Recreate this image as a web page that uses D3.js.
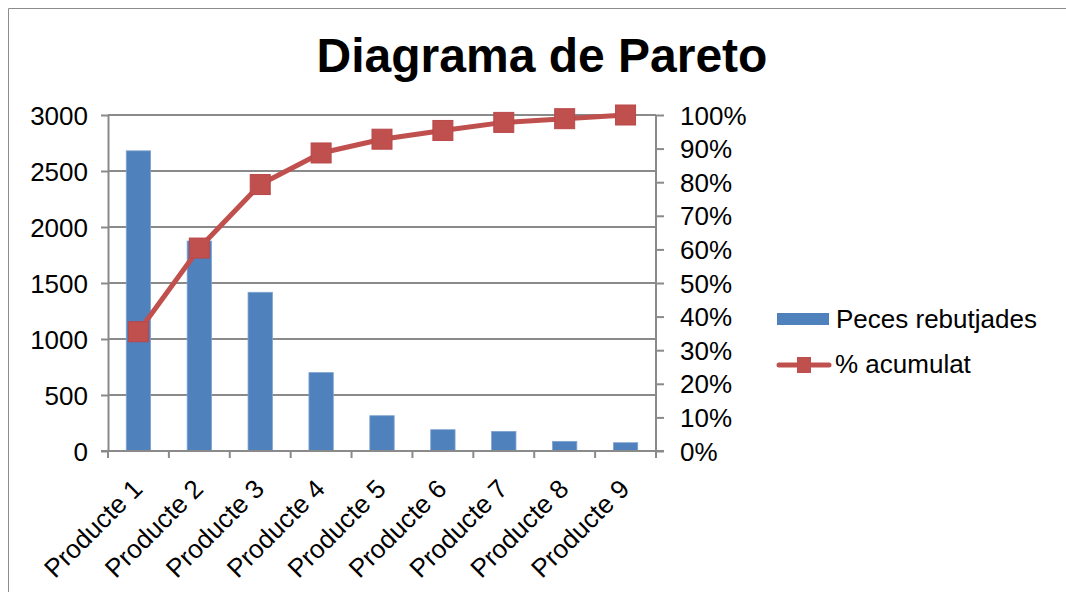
<!DOCTYPE html>
<html><head><meta charset="utf-8">
<script src="https://cdn.jsdelivr.net/npm/d3@7/dist/d3.min.js"></script>
<style>
html,body{margin:0;padding:0;background:#fff;}
text{font-family:"Liberation Sans",Arial,sans-serif;fill:#000;}
</style></head>
<body>
<svg id="c" width="1066" height="592"></svg>
<script>
const categories = ["Producte 1","Producte 2","Producte 3","Producte 4","Producte 5","Producte 6","Producte 7","Producte 8","Producte 9"];
const peces = [2680, 1875, 1417, 700, 315, 190, 175, 86, 74];
const acumulat = [0.355, 0.604, 0.793, 0.887, 0.928, 0.954, 0.978, 0.989, 1.0];
const leftTicks = [0, 500, 1000, 1500, 2000, 2500, 3000];
const rightTicks = [0, 0.1, 0.2, 0.3, 0.4, 0.5, 0.6, 0.7, 0.8, 0.9, 1.0];
const title = "Diagrama de Pareto";
const seriesNames = ["Peces rebutjades", "% acumulat"];

const svg = d3.select("#c");
const L = 108, R = 656, T = 115, B = 451;
const FS = 26;
const blue = "#4F81BD", red = "#C0504D", grid = "#8a8a8a";

// outer border
svg.append("path").attr("d", "M8.5,592 L8.5,8.5 L1066,8.5").attr("fill","none").attr("stroke","#8c8c8c").attr("stroke-width",1);

const xb = d3.scaleBand().domain(categories).range([L, R]).paddingInner(0.6).paddingOuter(0.3);
const xs = d3.scaleBand().domain(categories).range([L, R]).padding(0);
const y = d3.scaleLinear().domain([0, 3000]).range([B, T]);
const y2 = d3.scaleLinear().domain([0, 1]).range([B, T]);

// gridlines + left axis
const gl = svg.append("g").attr("transform", `translate(${L},0)`)
  .call(d3.axisLeft(y).tickValues(leftTicks).tickSize(7).tickFormat(d => d));
gl.select(".domain").attr("stroke", grid).attr("stroke-width", 2).attr("d", `M0.5,${B}V${T}`);
gl.selectAll(".tick line").attr("stroke", grid).attr("stroke-width", 2);
gl.selectAll(".tick text").attr("font-size", FS).attr("x", -20).attr("dy", "0.35em")
  .style("font-family", '"Liberation Sans",Arial,sans-serif').attr("fill", "#000");
svg.append("g").selectAll("line").data(leftTicks.filter(d => d > 0)).join("line")
  .attr("x1", L).attr("x2", R).attr("y1", d => y(d)).attr("y2", d => y(d))
  .attr("stroke", grid).attr("stroke-width", 2);

// right axis
const gr = svg.append("g").attr("transform", `translate(${R},0)`)
  .call(d3.axisRight(y2).tickValues(rightTicks).tickSize(8).tickFormat(d3.format(".0%")));
gr.select(".domain").attr("stroke", grid).attr("stroke-width", 2).attr("d", `M0,${B}V${T}`);
gr.selectAll(".tick line").attr("stroke", grid).attr("stroke-width", 2);
gr.selectAll(".tick text").attr("font-size", FS).attr("x", 24).attr("dy", "0.35em")
  .style("font-family", '"Liberation Sans",Arial,sans-serif').attr("fill", "#000");

// bars
svg.append("g").selectAll("rect").data(peces).join("rect")
  .attr("x", (d, i) => xb(categories[i])).attr("width", xb.bandwidth())
  .attr("y", d => y(d)).attr("height", d => B - y(d))
  .attr("fill", blue).attr("stroke", "#7fa3d0").attr("stroke-width", 0.8);

// bottom axis
const gb = svg.append("g").attr("transform", `translate(0,${B})`);
gb.append("line").attr("x1", L - 7).attr("x2", R + 8).attr("y1", 0).attr("y2", 0).attr("stroke", grid).attr("stroke-width", 2);
const bounds = categories.map(c => xs(c)).concat([R]);
gb.selectAll("line.t").data(bounds).join("line").attr("class","t")
  .attr("x1", d => d).attr("x2", d => d).attr("y1", 0).attr("y2", 7)
  .attr("stroke", grid).attr("stroke-width", 2);
gb.selectAll("text").data(categories).join("text")
  .attr("transform", d => `translate(${xs(d) + xs.bandwidth()/2 - 1},${33}) rotate(-45)`)
  .attr("text-anchor", "end").attr("dy", "0.35em").attr("font-size", FS).text(d => d);

// line
const cx = i => xb(categories[i]) + xb.bandwidth() / 2;
const line = d3.line().x((d, i) => cx(i)).y(d => y2(d));
svg.append("path").datum(acumulat).attr("d", line).attr("fill", "none")
  .attr("stroke", red).attr("stroke-width", 5).attr("stroke-linejoin", "round");
svg.append("g").selectAll("rect").data(acumulat).join("rect")
  .attr("x", (d, i) => cx(i) - 10).attr("y", d => y2(d) - 10)
  .attr("width", 20).attr("height", 20).attr("fill", red).attr("stroke", "#b9474a").attr("stroke-width", 1);

// title
svg.append("text").attr("x", 542).attr("y", 72).attr("text-anchor", "middle")
  .attr("font-size", 48).attr("font-weight", "bold").text(title);

// legend
const lg = svg.append("g");
lg.append("rect").attr("x", 777).attr("y", 313).attr("width", 52).attr("height", 12).attr("fill", blue);
lg.append("text").attr("x", 836).attr("y", 328).attr("font-size", FS).text(seriesNames[0]);
lg.append("line").attr("x1", 779).attr("x2", 829).attr("y1", 365).attr("y2", 365)
  .attr("stroke", red).attr("stroke-width", 5).attr("stroke-linecap", "round");
lg.append("rect").attr("x", 797).attr("y", 357).attr("width", 14).attr("height", 16).attr("fill", red);
lg.append("text").attr("x", 835).attr("y", 373).attr("font-size", FS).text(seriesNames[1]);
</script>
</body></html>
